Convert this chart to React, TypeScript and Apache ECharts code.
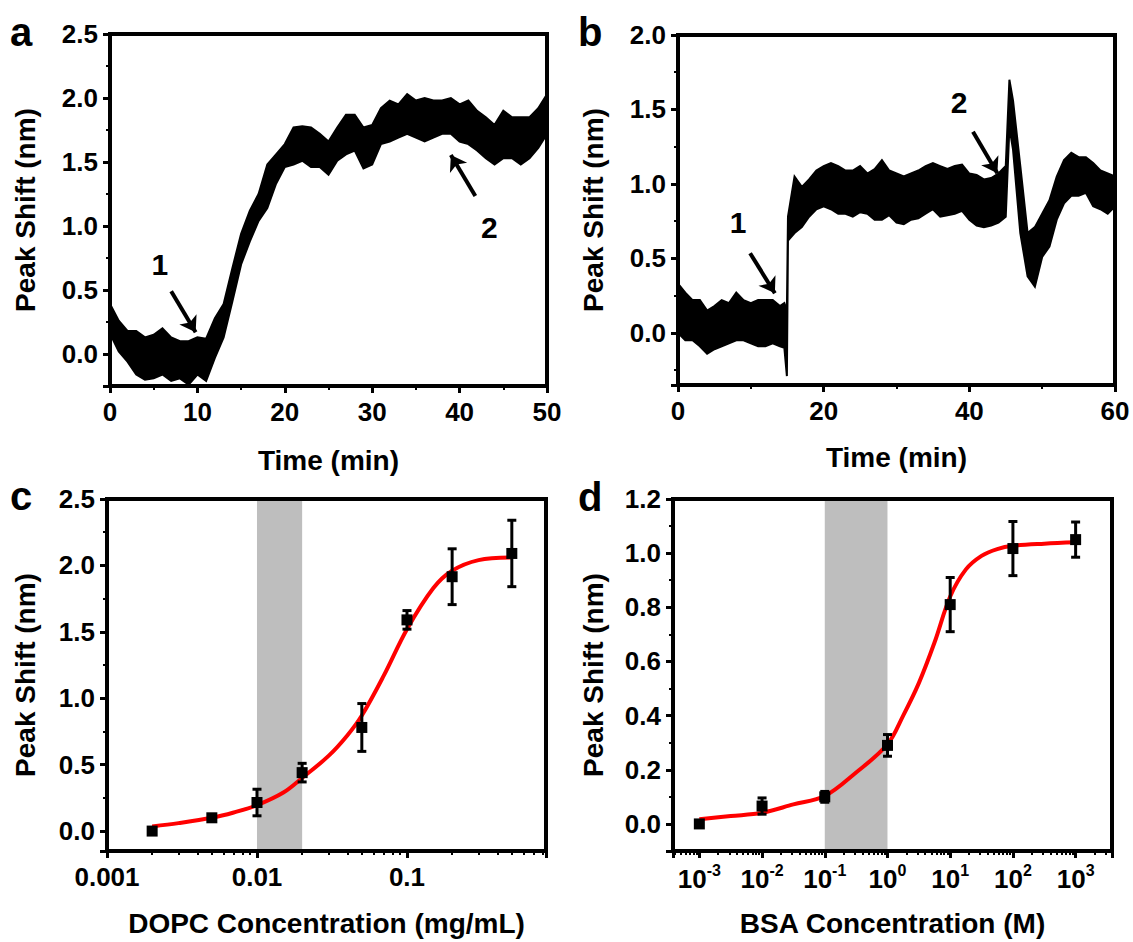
import React, { useEffect, useRef } from 'react';
import * as echarts from 'echarts';

const FONT = 'Liberation Sans';

// ---------- Panel a: Time trace (noise band envelope) ----------
const TIME_A = [0, 1, 2, 3, 4, 5, 6, 7, 8, 9, 10, 11, 12, 13, 14, 15, 16, 17, 18, 19, 20, 21, 22, 23, 24, 25, 26, 27, 28, 29, 30, 31, 32, 33, 34, 35, 36, 37, 38, 39, 40, 41, 42, 43, 44, 45, 46, 47, 48, 49, 50];
const A_UPPER = [0.39, 0.26, 0.18, 0.18, 0.13, 0.15, 0.20, 0.13, 0.10, 0.10,
  0.13, 0.12, 0.28, 0.39, 0.67, 0.94, 1.12, 1.25, 1.48, 1.56,
  1.64, 1.77, 1.78, 1.77, 1.72, 1.66, 1.77, 1.87, 1.87, 1.77,
  1.79, 1.92, 1.98, 1.95, 2.03, 1.98, 2.00, 1.98, 1.98, 2.00,
  1.95, 1.98, 1.90, 1.85, 1.79, 1.90, 1.85, 1.85, 1.85, 1.92, 2.03];
const A_LOWER = [0.16, 0.02, -0.06, -0.16, -0.20, -0.19, -0.16, -0.21, -0.19, -0.24,
  -0.16, -0.21, -0.03, 0.13, 0.41, 0.70, 0.88, 1.04, 1.14, 1.33,
  1.46, 1.48, 1.51, 1.46, 1.46, 1.40, 1.51, 1.56, 1.59, 1.45,
  1.48, 1.64, 1.66, 1.69, 1.72, 1.69, 1.66, 1.69, 1.72, 1.72,
  1.66, 1.64, 1.59, 1.53, 1.48, 1.53, 1.53, 1.48, 1.53, 1.61, 1.72];
const LABELS_A = [[5.7, 0.70, '1'], [43.4, 0.99, '2']];
const ARROWS_A = [[7.0, 0.49, 9.8, 0.17], [41.8, 1.234, 39.0, 1.555]];

// ---------- Panel b ----------
const TIME_B = [0, 1, 2, 3, 4, 5, 6, 7, 8, 9, 10, 11, 12, 13, 14, 14.6, 14.95, 15.1,
  16, 17, 18, 19, 20, 21, 22, 23, 24, 25, 26, 27, 28, 29, 30, 31, 32, 33, 34, 35, 36, 37, 38, 39, 40, 41, 42, 43, 44, 45,
  45.5, 46, 47, 48, 49, 50, 51, 52, 53, 54, 55, 56, 57, 58, 59, 60];
const B_UPPER = [0.33, 0.27, 0.22, 0.22, 0.15, 0.18, 0.22, 0.20, 0.27, 0.22, 0.20, 0.22, 0.22, 0.22, 0.18, 0.20, 0.15, 0.78,
  1.05, 0.98, 1.03, 1.09, 1.12, 1.14, 1.12, 1.09, 1.09, 1.12, 1.07, 1.10, 1.16, 1.09, 1.07, 1.05, 1.07, 1.09, 1.12, 1.14, 1.12, 1.10, 1.12, 1.13, 1.07, 1.06, 1.03, 1.04, 1.07, 1.12,
  1.70, 1.56, 1.12, 0.67, 0.71, 0.80, 0.89, 1.05, 1.16, 1.21, 1.18, 1.18, 1.14, 1.09, 1.07, 1.05];
const B_LOWER = [0.00, -0.05, -0.05, -0.09, -0.14, -0.11, -0.09, -0.07, -0.05, -0.05, -0.07, -0.09, -0.09, -0.07, -0.09, -0.10, -0.29, 0.62,
  0.67, 0.71, 0.78, 0.83, 0.85, 0.83, 0.80, 0.80, 0.78, 0.81, 0.80, 0.76, 0.76, 0.79, 0.74, 0.73, 0.76, 0.77, 0.80, 0.83, 0.78, 0.79, 0.80, 0.82, 0.76, 0.72, 0.71, 0.72, 0.74, 0.78,
  1.38, 1.23, 0.67, 0.38, 0.31, 0.51, 0.58, 0.76, 0.87, 0.92, 0.92, 0.94, 0.85, 0.83, 0.80, 0.85];
const LABELS_B = [[8.25, 0.74, '1'], [38.6, 1.55, '2']];
const ARROWS_B = [[9.9, 0.535, 13.3, 0.266], [40.5, 1.351, 43.85, 1.072]];

// ---------- Panel c: DOPC ----------
const DOPC_CONC = [0.002, 0.005, 0.01, 0.02, 0.05, 0.1, 0.2, 0.5];
const DOPC_SHIFT = [0.0, 0.10, 0.215, 0.44, 0.78, 1.59, 1.915, 2.09];
const DOPC_ERR = [0.02, 0.02, 0.10, 0.07, 0.18, 0.07, 0.21, 0.25];
const DOPC_FIT_X = [0.002, 0.003, 0.005, 0.007, 0.01, 0.015, 0.02, 0.03, 0.04, 0.05, 0.07, 0.1, 0.15, 0.2, 0.3, 0.5];
const DOPC_FIT_Y = [0.035, 0.06, 0.10, 0.14, 0.195, 0.29, 0.40, 0.566, 0.72, 0.87, 1.17, 1.52, 1.83, 1.96, 2.04, 2.06];
const DOPC_BAND = [0.01, 0.02];
const C_TICK_LABELS = { '-3': '0.001', '-2': '0.01', '-1': '0.1' };

// ---------- Panel d: BSA ----------
const BSA_CONC = [1e-3, 1e-2, 1e-1, 1, 10, 100, 1000];
const BSA_SHIFT = [0.0, 0.066, 0.10, 0.29, 0.81, 1.017, 1.05];
const BSA_ERR = [0.01, 0.03, 0.02, 0.04, 0.10, 0.10, 0.065];
const BSA_FIT_X = [0.001, 0.00316, 0.01, 0.0316, 0.1, 0.316, 1, 1.78, 3.16, 5.62, 10, 17.8, 31.6, 56.2, 100, 316, 1000];
const BSA_FIT_Y = [0.017, 0.029, 0.041, 0.072, 0.103, 0.19, 0.294, 0.40, 0.52, 0.67, 0.84, 0.94, 0.99, 1.015, 1.027, 1.035, 1.04];
const BSA_BAND = [0.1, 1];

// axis ranges
const X_A = [0, 50];
const X_B = [0, 60];
const X_C = [0.001, 0.845];
const X_D = [Math.pow(10, -3.42), Math.pow(10, 3.58)];
const Y_A = [-0.25, 2.5];
const Y_B = [-0.35, 2.0];
const Y_C = [-0.15, 2.5];
const Y_D = [-0.1, 1.2];

// layout
const GRIDS = [
  { left: 110, top: 34, width: 437, height: 352 },
  { left: 678, top: 35, width: 437, height: 350 },
  { left: 107, top: 499, width: 439, height: 352 },
  { left: 673, top: 499, width: 439, height: 352 },
];
const FRAME_W = 4;

const BLACK = '#000';

const tickLabel = { color: BLACK, fontFamily: FONT, fontWeight: 'bold', fontSize: 26 };
const nameStyle = { color: BLACK, fontFamily: FONT, fontWeight: 'bold', fontSize: 28 };

function baseAxis(gridIndex: number, extra: any) {
  return {
    gridIndex,
    axisLine: { show: true, onZero: false, lineStyle: { color: BLACK, width: 4 } },
    axisTick: { show: true, inside: false, length: 7, lineStyle: { color: BLACK, width: 3 } },
    minorTick: { show: true, splitNumber: 2, length: 4, lineStyle: { color: BLACK, width: 2 } },
    splitLine: { show: false },
    minorSplitLine: { show: false },
    nameLocation: 'middle',
    nameTextStyle: nameStyle,
    ...extra,
  };
}

function bandSeries(idx: number, t: number[], lo: number[], hi: number[]) {
  return {
    type: 'custom',
    xAxisIndex: idx,
    yAxisIndex: idx,
    z: 2,
    data: [[t[0], lo[0]]],
    encode: { x: 0, y: 1 },
    renderItem: (_p: any, api: any) => {
      const pts: number[][] = [];
      for (let i = 0; i < t.length; i++) pts.push(api.coord([t[i], hi[i]]));
      for (let i = t.length - 1; i >= 0; i--) pts.push(api.coord([t[i], lo[i]]));
      return { type: 'polygon', shape: { points: pts }, style: { fill: BLACK, stroke: BLACK, lineWidth: 2 } };
    },
  };
}

function annotSeries(idx: number, labels: any[], arrows: number[][]) {
  return {
    type: 'scatter',
    xAxisIndex: idx,
    yAxisIndex: idx,
    z: 6,
    symbolSize: 0,
    itemStyle: { color: BLACK, opacity: 1 },
    data: labels.map((l) => [l[0], l[1], l[2]]),
    label: {
      show: true,
      position: 'inside',
      formatter: (p: any) => p.value[2],
      color: BLACK,
      opacity: 1,
      fontFamily: FONT,
      fontWeight: 'bold',
      fontSize: 30,
    },
    markLine: {
      symbol: ['none', 'arrow'],
      symbolSize: 15,
      label: { show: false },
      lineStyle: { color: BLACK, width: 4, type: 'solid', opacity: 1 },
      data: arrows.map((a) => [{ coord: [a[0], a[1]] }, { coord: [a[2], a[3]] }]),
    },
  };
}

function shadeSeries(idx: number, band: number[], yr: number[]) {
  return {
    type: 'custom',
    xAxisIndex: idx,
    yAxisIndex: idx,
    z: 1,
    data: [[band[0], yr[0]]],
    encode: { x: 0, y: 1 },
    renderItem: (_p: any, api: any) => {
      const a = api.coord([band[0], yr[1]]);
      const b = api.coord([band[1], yr[0]]);
      return { type: 'rect', shape: { x: a[0], y: a[1], width: b[0] - a[0], height: b[1] - a[1] }, style: { fill: '#bebebe' } };
    },
  };
}

function fitSeries(idx: number, xs: number[], ys: number[]) {
  return {
    type: 'line',
    xAxisIndex: idx,
    yAxisIndex: idx,
    z: 3,
    smooth: 0.35,
    showSymbol: false,
    lineStyle: { color: '#ff0000', width: 4 },
    itemStyle: { color: '#ff0000' },
    data: xs.map((x, i) => [x, ys[i]]),
  };
}

function errSeries(idx: number, xs: number[], ys: number[], es: number[]) {
  return {
    type: 'custom',
    xAxisIndex: idx,
    yAxisIndex: idx,
    z: 4,
    encode: { x: 0, y: 1 },
    data: xs.map((x, i) => [x, ys[i], es[i]]),
    renderItem: (_p: any, api: any) => {
      const x = api.value(0);
      const y = api.value(1);
      const e = api.value(2);
      const top = api.coord([x, y + e]);
      const bot = api.coord([x, y - e]);
      const hw = 4.5;
      const st = { stroke: BLACK, lineWidth: 3 };
      return {
        type: 'group',
        children: [
          { type: 'line', shape: { x1: top[0], y1: top[1], x2: bot[0], y2: bot[1] }, style: st },
          { type: 'line', shape: { x1: top[0] - hw, y1: top[1], x2: top[0] + hw, y2: top[1] }, style: st },
          { type: 'line', shape: { x1: bot[0] - hw, y1: bot[1], x2: bot[0] + hw, y2: bot[1] }, style: st },
        ],
      };
    },
  };
}

function pointSeries(idx: number, xs: number[], ys: number[]) {
  return {
    type: 'scatter',
    xAxisIndex: idx,
    yAxisIndex: idx,
    z: 5,
    symbol: 'rect',
    symbolSize: 11,
    itemStyle: { color: BLACK, opacity: 1 },
    data: xs.map((x, i) => [x, ys[i]]),
  };
}

function isPow10(v: number) {
  const e = Math.log10(v);
  const r = Math.round(e);
  return Math.abs(e - r) < 1e-6 ? r : null;
}

function letter(text: string, x: number, y: number) {
  return {
    type: 'text',
    x,
    y,
    z: 100,
    style: { text, fill: BLACK, font: `bold 40px "${FONT}"`, textAlign: 'left', textVerticalAlign: 'middle' },
  };
}

export default function App() {
  const ref = useRef<HTMLDivElement>(null);
  useEffect(() => {
    if (!ref.current) return;
    const chart = echarts.init(ref.current, null, { renderer: 'svg' });
    const yLabel = { ...tickLabel, margin: 12, showMinLabel: false, formatter: (v: number) => v.toFixed(1) };
    const option: any = {
      animation: false,
      backgroundColor: '#fff',
      grid: GRIDS.map((g) => ({ ...g, show: false, outerBoundsMode: 'none', containLabel: false })),
      xAxis: [
        baseAxis(0, {
          type: 'value', min: X_A[0], max: X_A[1], interval: 10,
          name: 'Time (min)', nameGap: 60,
          axisLabel: { ...tickLabel, margin: 13 },
        }),
        baseAxis(1, {
          type: 'value', min: X_B[0], max: X_B[1], interval: 20,
          name: 'Time (min)', nameGap: 58,
          axisLabel: { ...tickLabel, margin: 13 },
        }),
        baseAxis(2, {
          type: 'log', logBase: 10, min: X_C[0], max: X_C[1],
          name: 'DOPC Concentration (mg/mL)', nameGap: 58,
          minorTick: { show: true, splitNumber: 9, length: 4, lineStyle: { color: BLACK, width: 2 } },
          axisLabel: {
            ...tickLabel, margin: 13, showMaxLabel: false,
            formatter: (v: number) => {
              const r = isPow10(v);
              return r === null ? '' : ((C_TICK_LABELS as any)[String(r)] || '');
            },
          },
        }),
        baseAxis(3, {
          type: 'log', logBase: 10, min: X_D[0], max: X_D[1],
          name: 'BSA Concentration (M)', nameGap: 58,
          minorTick: { show: true, splitNumber: 9, length: 4, lineStyle: { color: BLACK, width: 2 } },
          axisLabel: {
            ...tickLabel, margin: 11, showMaxLabel: false, showMinLabel: false,
            formatter: (v: number) => {
              const r = isPow10(v);
              return r === null ? '' : `{b|10}{s|${r}}`;
            },
            rich: {
              b: { fontFamily: FONT, fontWeight: 'bold', fontSize: 26, color: BLACK, lineHeight: 30, verticalAlign: 'bottom' },
              s: { fontFamily: FONT, fontWeight: 'bold', fontSize: 16, color: BLACK, lineHeight: 18, verticalAlign: 'top' },
            },
          },
        }),
      ],
      yAxis: [
        baseAxis(0, { type: 'value', min: Y_A[0], max: Y_A[1], splitNumber: 5, name: 'Peak Shift (nm)', nameGap: 71, axisLabel: yLabel }),
        baseAxis(1, { type: 'value', min: Y_B[0], max: Y_B[1], splitNumber: 5, name: 'Peak Shift (nm)', nameGap: 71, axisLabel: yLabel }),
        baseAxis(2, { type: 'value', min: Y_C[0], max: Y_C[1], splitNumber: 5, name: 'Peak Shift (nm)', nameGap: 68, axisLabel: yLabel }),
        baseAxis(3, { type: 'value', min: Y_D[0], max: Y_D[1], splitNumber: 6, name: 'Peak Shift (nm)', nameGap: 66, axisLabel: yLabel }),
      ],
      graphic: [
        letter('a', 10, 32),
        letter('b', 578, 32),
        letter('c', 10, 496),
        letter('d', 578, 497),
      ],
      series: [
        bandSeries(0, TIME_A, A_LOWER, A_UPPER),
        annotSeries(0, LABELS_A, ARROWS_A),
        bandSeries(1, TIME_B, B_LOWER, B_UPPER),
        annotSeries(1, LABELS_B, ARROWS_B),
        shadeSeries(2, DOPC_BAND, Y_C),
        fitSeries(2, DOPC_FIT_X, DOPC_FIT_Y),
        errSeries(2, DOPC_CONC, DOPC_SHIFT, DOPC_ERR),
        pointSeries(2, DOPC_CONC, DOPC_SHIFT),
        shadeSeries(3, BSA_BAND, Y_D),
        fitSeries(3, BSA_FIT_X, BSA_FIT_Y),
        errSeries(3, BSA_CONC, BSA_SHIFT, BSA_ERR),
        pointSeries(3, BSA_CONC, BSA_SHIFT),
      ],
    };
    chart.setOption(option);
    return () => chart.dispose();
  }, []);
  return (
    <div style={{ position: 'fixed', left: 0, top: 0, width: 1133, height: 942, background: '#fff' }}>
      <div ref={ref} style={{ position: 'absolute', left: 0, top: 0, width: 1133, height: 942 }} />
      {GRIDS.map((g, i) => (
        <div
          key={i}
          style={{
            position: 'absolute',
            left: g.left - FRAME_W / 2,
            top: g.top - FRAME_W / 2,
            width: g.width + FRAME_W,
            height: g.height + FRAME_W,
            border: `${FRAME_W}px solid ${BLACK}`,
            boxSizing: 'border-box',
            pointerEvents: 'none',
          }}
        />
      ))}
    </div>
  );
}
